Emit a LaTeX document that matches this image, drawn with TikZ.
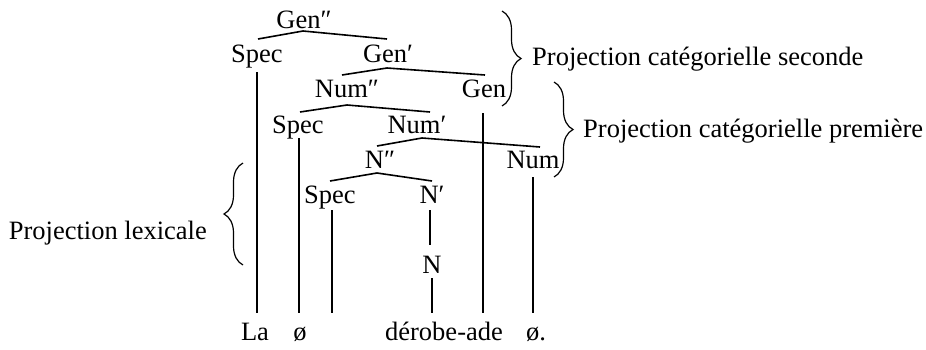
\documentclass[tikz,border=0pt]{standalone}
\usepackage{fontspec}
\setmainfont{Liberation Serif}
\usetikzlibrary{calc,decorations.pathreplacing}
\begin{document}
\begin{tikzpicture}[x=1pt,y=-1pt,
  lbl/.style={anchor=base,inner sep=0pt,font=\fontsize{26.5}{30}\selectfont},
  side/.style={anchor=base west,inner sep=0pt,font=\fontsize{26.5}{30}\selectfont},
  edge/.style={line width=1.6pt},
  brc/.style={line width=1.2pt,decorate,decoration={brace,amplitude=19pt}}]
\useasboundingbox (0,0) rectangle (926,349);
% tree labels
\node[lbl] (gen2) at (304,28) {Gen″};
\node[lbl] (spec1) at (257,62) {Spec};
\node[lbl] (gen1) at (388,62) {Gen′};
\node[lbl] (num2) at (347,97) {Num″};
\node[lbl] (gen0) at (484,97) {Gen};
\node[lbl] (spec2) at (298,133) {Spec};
\node[lbl] (num1) at (417,133) {Num′};
\node[lbl] (n2) at (380,168) {N″};
\node[lbl] (num0) at (533,168) {Num};
\node[lbl] (spec3) at (330,203) {Spec};
\node[lbl] (n1) at (432,203) {N′};
\node[lbl] (n0) at (432,273) {N};
\node[lbl] (la) at (255,340) {La};
\node[lbl] (o1) at (300,340) {ø};
\node[lbl] (derob) at (444,340) {dérobe-ade};
\node[lbl,anchor=base west] (o2) at (526,340) {ø.};
% branches
\draw[edge] ($(spec1.base)+(1,-23)$) -- ($(gen2.base)+(-1,3)$) -- ($(gen1.base)+(-1,-23)$);
\draw[edge] ($(num2.base)+(-5,-22)$) -- ($(gen1.base)+(-1,6)$) -- ($(gen0.base)+(1,-22)$);
\draw[edge] ($(spec2.base)+(2,-21)$) -- ($(num2.base)+(0,8)$) -- ($(num1.base)+(13,-21)$);
\draw[edge] ($(n2.base)+(-3,-22)$) -- ($(num1.base)+(5,5)$) -- ($(num0.base)+(7,-21)$);
\draw[edge] ($(spec3.base)+(0,-22)$) -- ($(n2.base)+(-3,5)$) -- ($(n1.base)+(0,-22)$);
% verticals
\coordinate (laT) at ($(la.base)+(2,-27)$);
\draw[edge] ($(spec1.base)+(0,10)$) -- (laT);
\draw[edge] ($(spec2.base)+(1,5)$) -- ($(o1.base)+(-1,-27)$);
\draw[edge] ($(spec3.base)+(2,7)$) -- ($(spec3.base)+(2,110)$);
\draw[edge] ($(gen0.base)+(-1,16)$) -- ($(gen0.base)+(-1,216)$);
\draw[edge] ($(num0.base)+(0,9)$) -- ($(num0.base)+(0,145)$);
\draw[edge] ($(n1.base)+(-2,7)$) -- ($(n0.base)+(-2,-28)$);
\draw[edge] ($(n0.base)+(0,5)$) -- ($(derob.base)+(-12,-27)$);
% braces
\draw[brc] (502,11) -- (502,106) coordinate[pos=.5] (b1);
\draw[brc] (554,82) -- (554,177) coordinate[pos=.5] (b2);
\draw[brc] (243,265) -- (243,163) coordinate[pos=.5] (b3);
\node[side] (t1) at (532,65) {Projection catégorielle seconde};
\node[side] (t2) at (583,137) {Projection catégorielle première};
\node[lbl,anchor=base east] (t3) at (207,239) {Projection lexicale};
\end{tikzpicture}
\end{document}
